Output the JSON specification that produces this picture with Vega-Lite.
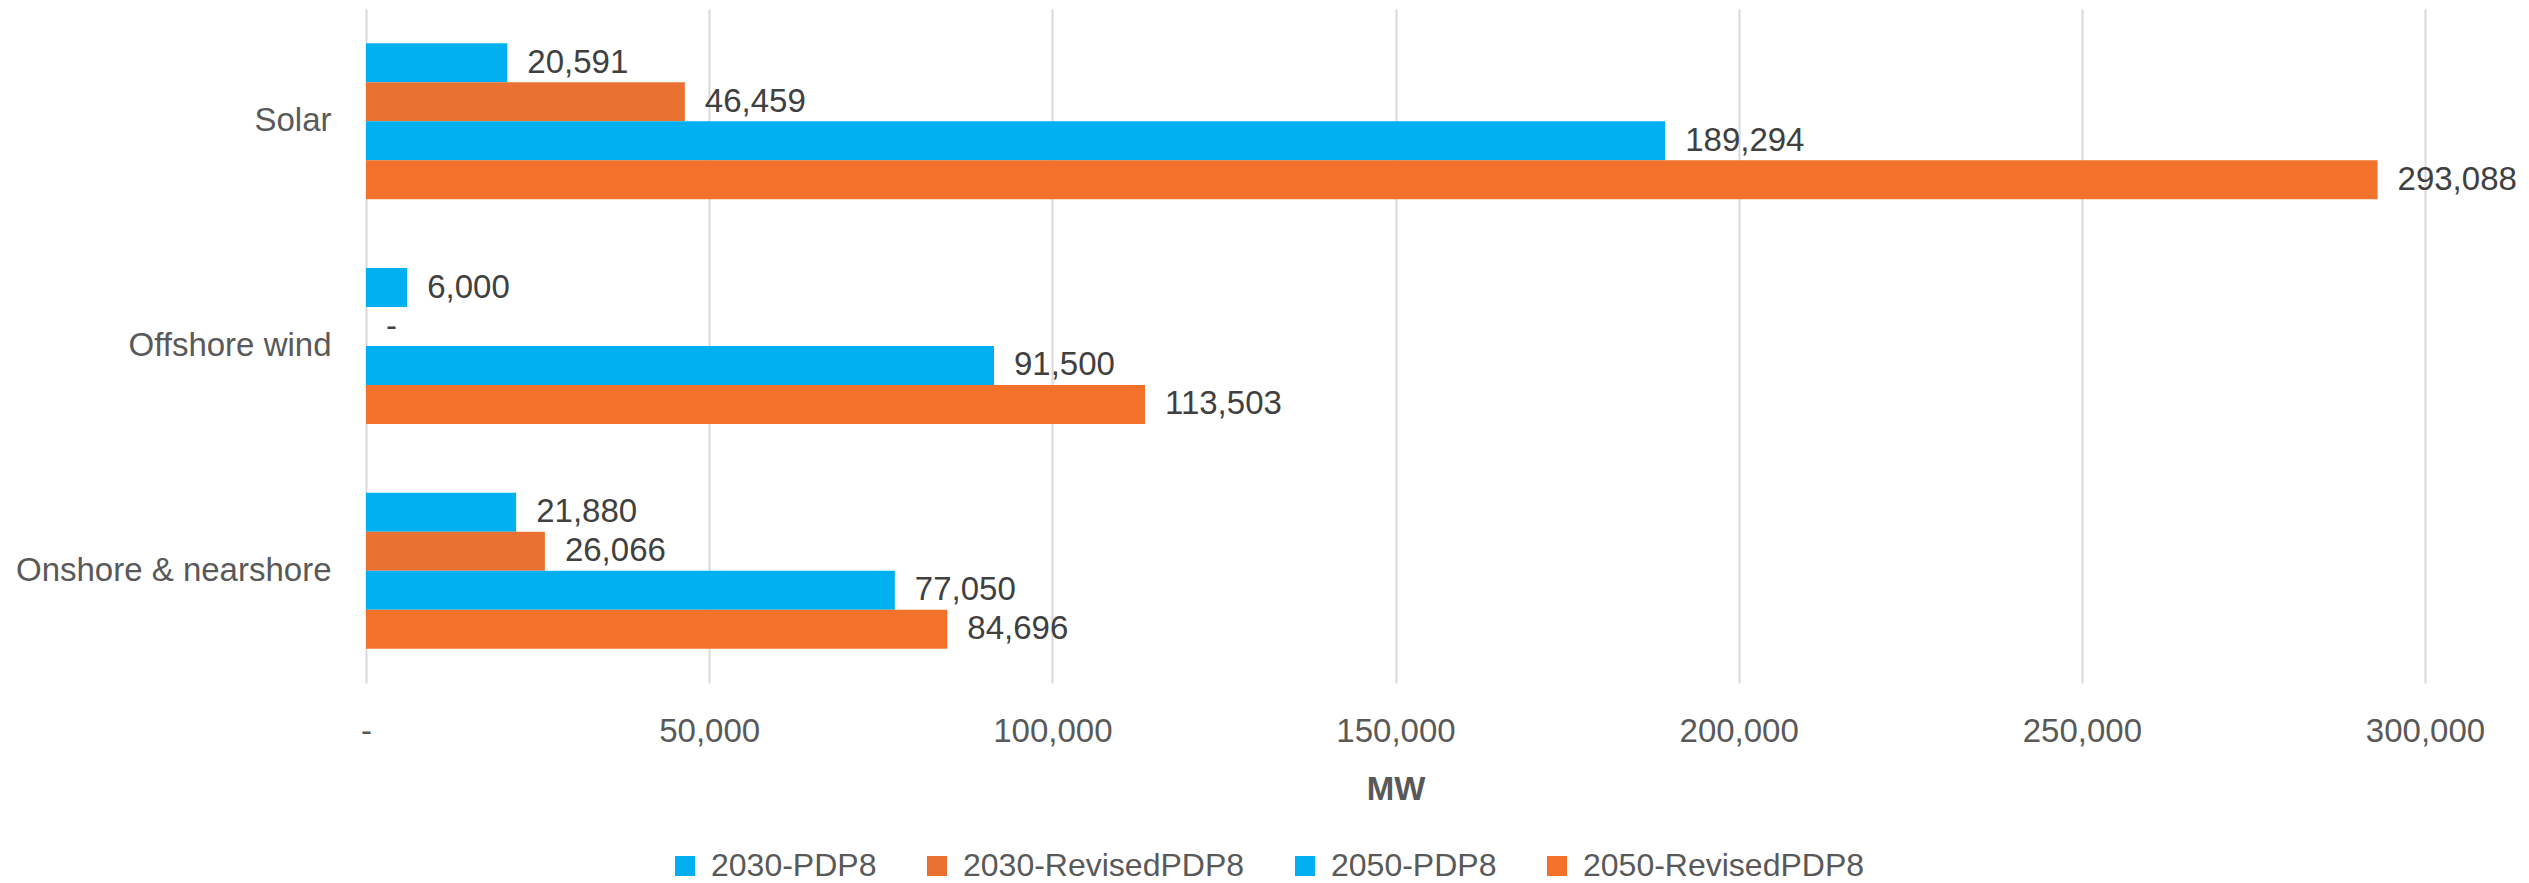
{
  "$schema": "https://vega.github.io/schema/vega-lite/v6.json",
  "width": 2059,
  "height": 674,
  "autosize": {"type": "none"},
  "padding": {"left": 366, "top": 9, "right": 104, "bottom": 200},
  "background": "#ffffff",
  "config": {
    "view": {"stroke": null},
    "font": "Liberation Sans"
  },
  "data": {
    "values": [
      {"category": "Solar", "series": "2030-PDP8", "value": 20591},
      {"category": "Solar", "series": "2030-RevisedPDP8", "value": 46459},
      {"category": "Solar", "series": "2050-PDP8", "value": 189294},
      {"category": "Solar", "series": "2050-RevisedPDP8", "value": 293088},
      {"category": "Offshore wind", "series": "2030-PDP8", "value": 6000},
      {"category": "Offshore wind", "series": "2030-RevisedPDP8", "value": 0},
      {"category": "Offshore wind", "series": "2050-PDP8", "value": 91500},
      {"category": "Offshore wind", "series": "2050-RevisedPDP8", "value": 113503},
      {"category": "Onshore & nearshore", "series": "2030-PDP8", "value": 21880},
      {"category": "Onshore & nearshore", "series": "2030-RevisedPDP8", "value": 26066},
      {"category": "Onshore & nearshore", "series": "2050-PDP8", "value": 77050},
      {"category": "Onshore & nearshore", "series": "2050-RevisedPDP8", "value": 84696}
    ]
  },
  "encoding": {
    "y": {
      "field": "category",
      "type": "nominal",
      "sort": ["Solar", "Offshore wind", "Onshore & nearshore"],
      "scale": {"paddingInner": 0.306, "paddingOuter": 0.153},
      "axis": {
        "title": null,
        "domain": false,
        "ticks": false,
        "labelFontSize": 33,
        "labelColor": "#595959",
        "labelPadding": 35,
        "labelLimit": 400,
        "labelFont": "Liberation Sans"
      }
    },
    "yOffset": {
      "field": "series",
      "type": "nominal",
      "sort": ["2030-PDP8", "2030-RevisedPDP8", "2050-PDP8", "2050-RevisedPDP8"],
      "scale": {"paddingInner": 0, "paddingOuter": 0}
    },
    "x": {
      "field": "value",
      "type": "quantitative",
      "scale": {"domain": [0, 300000], "nice": false},
      "axis": {
        "title": "MW",
        "titleFontSize": 33,
        "titleFontWeight": "bold",
        "titleColor": "#595959",
        "titleBaseline": "alphabetic",
        "titleY": 116,
        "values": [0, 50000, 100000, 150000, 200000, 250000, 300000],
        "format": ",.0f",
        "labelExpr": "datum.value === 0 ? '-' : datum.label",
        "labelFlush": false,
        "labelFontSize": 33,
        "labelColor": "#595959",
        "labelPadding": 32,
        "domain": false,
        "ticks": false,
        "grid": true,
        "gridColor": "#D9D9D9",
        "gridWidth": 2
      }
    }
  },
  "layer": [
    {
      "mark": {"type": "bar"},
      "encoding": {
        "color": {
          "field": "series",
          "type": "nominal",
          "sort": ["2030-PDP8", "2030-RevisedPDP8", "2050-PDP8", "2050-RevisedPDP8"],
          "scale": {
            "domain": ["2030-PDP8", "2030-RevisedPDP8", "2050-PDP8", "2050-RevisedPDP8"],
            "range": ["#00B0F0", "#E97132", "#00B0F0", "#F2722B"]
          },
          "legend": {
            "title": null,
            "orient": "none",
            "direction": "horizontal",
            "legendX": 303,
            "legendY": 841,
            "symbolType": "square",
            "symbolSize": 400,
            "symbolStrokeWidth": 0,
            "labelFontSize": 32,
            "labelColor": "#595959",
            "labelOffset": 10,
            "columnPadding": 44,
            "labelLimit": 600
          }
        }
      }
    },
    {
      "mark": {
        "type": "text",
        "align": "left",
        "baseline": "middle",
        "dx": 20,
        "fontSize": 33,
        "color": "#404040"
      },
      "encoding": {
        "text": {
          "condition": {"test": "datum.value === 0", "value": "-"},
          "field": "value",
          "type": "quantitative",
          "format": ",.0f"
        }
      }
    }
  ]
}
